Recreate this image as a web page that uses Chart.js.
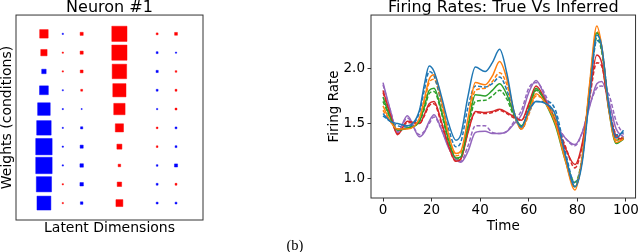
<!DOCTYPE html>
<html>
<head>
<meta charset="utf-8">
<script src="https://cdn.jsdelivr.net/npm/chart.js@4/dist/chart.umd.min.js"></script>
<style>
  html, body { margin: 0; padding: 0; background: #fff; }
  body { width: 640px; height: 252px; position: relative; overflow: hidden; }
  .panel { position: absolute; top: 0; height: 240px; }
  #left { left: 0; width: 219px; }
  #right { left: 320px; width: 320px; }
  #caption {
    position: absolute; left: 0; width: 590px; top: 238px; line-height: 14px;
    text-align: center; font-family: "Liberation Serif", serif; font-size: 14.5px; color: #000;
  }
</style>
</head>
<body>
<div class="panel" id="left"><canvas id="hintonChart"></canvas></div>
<div class="panel" id="right"><canvas id="ratesChart"></canvas></div>
<div id="caption">(b)</div>

<script>
// Hinton diagram: weight of each condition (row) on each latent dimension (column)
const conditions = [0, 1, 2, 3, 4, 5, 6, 7, 8, 9];
const dim0 = [0.27, 0.15, -0.074, -0.29, -0.59, -0.78, -1.0, -1.0, -0.86, -0.72];
const dim1 = [-0.006, 0.006, 0.006, -0.005, -0.005, -0.005, -0.006, -0.006, 0.006, 0.006];
const dim2 = [0.036, 0.036, 0.03, 0.013, -0.004, -0.018, -0.036, -0.045, -0.045, -0.024];
const dim3 = [0, 0, 0, 0, 0, 0, 0, 0, 0, 0];
const dim4 = [0.86, 0.86, 0.78, 0.65, 0.48, 0.25, 0.094, 0.024, 0.074, 0.18];
const dim5 = [0, 0, 0, 0, 0, 0, 0, 0, 0, 0];
const dim6 = [0.013, -0.013, -0.018, -0.013, -0.006, 0.01, 0.01, -0.01, -0.013, -0.013];
const dim7 = [0.03, -0.006, 0.01, 0.013, 0.013, -0.013, -0.013, -0.036, 0.013, -0.013];

// Firing rates, true (solid) and inferred (dashed)
const times = [0, 3, 6, 10, 15, 17, 19, 21, 24, 27, 30, 32, 35, 38, 42, 45, 48, 51, 54, 57, 60, 63, 67, 71, 75, 79, 82, 85, 88, 90, 93, 96, 99];
const trueBlue   = [1.59, 1.52, 1.50, 1.48, 1.62, 1.85, 2.02, 1.97, 1.75, 1.50, 1.35, 1.40, 1.75, 2.01, 1.97, 2.05, 2.17, 1.95, 1.60, 1.47, 1.62, 1.70, 1.68, 1.58, 1.22, 0.93, 1.15, 1.75, 2.30, 2.20, 1.65, 1.37, 1.44];
const trueOrange = [1.66, 1.52, 1.45, 1.45, 1.55, 1.72, 1.90, 1.94, 1.72, 1.40, 1.23, 1.25, 1.55, 1.87, 1.85, 1.93, 2.06, 1.90, 1.60, 1.45, 1.60, 1.77, 1.68, 1.50, 1.17, 0.90, 1.20, 1.85, 2.38, 2.20, 1.62, 1.33, 1.36];
const trueGreen  = [1.74, 1.55, 1.44, 1.46, 1.52, 1.65, 1.80, 1.82, 1.62, 1.35, 1.19, 1.20, 1.48, 1.76, 1.75, 1.80, 1.86, 1.76, 1.58, 1.48, 1.63, 1.82, 1.68, 1.48, 1.17, 0.93, 1.18, 1.82, 2.32, 2.18, 1.62, 1.32, 1.36];
const trueRed    = [1.80, 1.58, 1.40, 1.52, 1.50, 1.58, 1.68, 1.70, 1.52, 1.30, 1.16, 1.18, 1.42, 1.61, 1.60, 1.61, 1.63, 1.60, 1.56, 1.53, 1.68, 1.84, 1.70, 1.50, 1.28, 1.13, 1.32, 1.75, 2.12, 2.05, 1.62, 1.38, 1.36];
const trueViolet = [1.87, 1.62, 1.42, 1.57, 1.38, 1.42, 1.52, 1.58, 1.45, 1.28, 1.18, 1.15, 1.25, 1.42, 1.43, 1.41, 1.41, 1.43, 1.50, 1.58, 1.78, 1.89, 1.72, 1.50, 1.37, 1.31, 1.42, 1.65, 1.86, 1.88, 1.70, 1.45, 1.38];
const infBlue    = [1.57, 1.52, 1.48, 1.47, 1.60, 1.80, 1.97, 1.93, 1.70, 1.45, 1.29, 1.33, 1.65, 1.84, 1.83, 1.86, 1.92, 1.80, 1.58, 1.45, 1.60, 1.70, 1.70, 1.62, 1.25, 0.96, 1.18, 1.75, 2.25, 2.18, 1.66, 1.40, 1.42];
const infOrange  = [1.62, 1.52, 1.45, 1.46, 1.53, 1.68, 1.87, 1.90, 1.68, 1.38, 1.21, 1.23, 1.50, 1.80, 1.82, 1.88, 1.96, 1.85, 1.60, 1.45, 1.58, 1.75, 1.70, 1.55, 1.20, 0.93, 1.20, 1.82, 2.33, 2.20, 1.64, 1.35, 1.37];
const infGreen   = [1.70, 1.55, 1.45, 1.46, 1.52, 1.63, 1.77, 1.79, 1.60, 1.33, 1.18, 1.19, 1.45, 1.70, 1.71, 1.75, 1.80, 1.72, 1.56, 1.47, 1.62, 1.80, 1.70, 1.52, 1.20, 0.97, 1.20, 1.80, 2.27, 2.15, 1.64, 1.35, 1.37];
const infRed     = [1.78, 1.58, 1.41, 1.51, 1.50, 1.57, 1.66, 1.68, 1.50, 1.29, 1.16, 1.18, 1.43, 1.60, 1.59, 1.60, 1.62, 1.59, 1.55, 1.53, 1.66, 1.80, 1.70, 1.53, 1.30, 1.10, 1.30, 1.72, 2.05, 2.02, 1.65, 1.40, 1.37];
const infViolet  = [1.85, 1.62, 1.43, 1.55, 1.40, 1.43, 1.50, 1.56, 1.45, 1.29, 1.18, 1.16, 1.30, 1.48, 1.48, 1.42, 1.41, 1.43, 1.52, 1.62, 1.82, 1.87, 1.75, 1.52, 1.37, 1.30, 1.42, 1.66, 1.82, 1.84, 1.76, 1.52, 1.40];

const timeTicks = [0, 20, 40, 60, 80, 100];
const rateTicks = [1.0, 1.5, 2.0];

const FONT = '"DejaVu Sans", sans-serif';
Chart.defaults.font.family = FONT;
Chart.defaults.color = '#000';

// box round the plot area, like the matplotlib spines
const frame = {
    id: 'frame',
    afterDatasetsDraw(chart) {
        const { ctx, chartArea: a } = chart;
        ctx.save();
        ctx.strokeStyle = '#333';
        ctx.lineWidth = 1;
        ctx.strokeRect(a.left, a.top, a.right - a.left, a.bottom - a.top);
        ctx.restore();
    }
};

function createHintonChart() {
    const ctx = document.getElementById('hintonChart');
    const dims = [dim0, dim1, dim2, dim3, dim4, dim5, dim6, dim7];
    const cells = [];
    dims.forEach((col, d) => col.forEach((w, i) => cells.push({ x: d, y: conditions[i], w: w })));

    // square side grows with sqrt(|w|), measured in scale cells
    const radius = c => {
        const xs = c.chart.scales.x;
        const cell = xs.getPixelForValue(1) - xs.getPixelForValue(0);
        return Math.sqrt(Math.abs(c.raw.w)) * cell * 0.87 / Math.SQRT2;
    };

    new Chart(ctx, {
        type: 'scatter',
        data: {
            datasets: [{
                data: cells.filter(c => c.w > 0),
                pointStyle: 'rect',
                pointRadius: radius,
                pointBackgroundColor: '#ff0000',
                pointBorderColor: 'rgba(255, 0, 0, 0.45)',
                pointBorderWidth: 1
            }, {
                data: cells.filter(c => c.w < 0),
                pointStyle: 'rect',
                pointRadius: radius,
                pointBackgroundColor: '#0000ff',
                pointBorderColor: 'rgba(0, 0, 255, 0.45)',
                pointBorderWidth: 1
            }]
        },
        options: {
            responsive: true,
            maintainAspectRatio: false,
            animation: false,
            events: [],
            layout: { padding: { left: 0, right: 16, top: 0, bottom: 0 } },
            plugins: {
                legend: { display: false },
                tooltip: { enabled: false },
                title: {
                    display: true,
                    text: 'Neuron #1',
                    fullSize: false,
                    font: { size: 16, weight: 'normal', lineHeight: 0.94 },
                    padding: 0
                }
            },
            scales: {
                x: {
                    type: 'linear',
                    min: -1.48,
                    max: 8.43,
                    ticks: { display: false },
                    grid: { display: false },
                    border: { display: false },
                    title: {
                        display: true,
                        text: 'Latent Dimensions',
                        font: { size: 14, lineHeight: 1 },
                        padding: { top: 0, bottom: 5 }
                    },
                    afterFit: s => { s.height = 20; }
                },
                y: {
                    type: 'linear',
                    reverse: true,
                    min: -1.0,
                    max: 9.9,
                    ticks: { display: false },
                    grid: { display: false },
                    border: { display: false },
                    title: {
                        display: true,
                        text: 'Weights (conditions)',
                        font: { size: 14, lineHeight: 1 },
                        padding: 0
                    },
                    afterFit: s => { s.width = 16; }
                }
            }
        },
        plugins: [frame]
    });
}

function createRatesChart() {
    const ctx = document.getElementById('ratesChart');
    const toPoints = arr => arr.map((v, i) => ({ x: times[i], y: v }));
    const colors = ['#1f77b4', '#ff7f0e', '#2ca02c', '#d62728', '#9467bd'];
    const solid = [trueBlue, trueOrange, trueGreen, trueRed, trueViolet];
    const dashed = [infBlue, infOrange, infGreen, infRed, infViolet];

    const datasets = [];
    solid.forEach((s, i) => datasets.push({
        data: toPoints(s),
        borderColor: colors[i],
        borderWidth: 1.5
    }));
    dashed.forEach((s, i) => datasets.push({
        data: toPoints(s),
        borderColor: colors[i],
        borderWidth: 1.5,
        borderDash: [4, 2]
    }));

    new Chart(ctx, {
        type: 'line',
        data: { datasets: datasets },
        options: {
            responsive: true,
            maintainAspectRatio: false,
            animation: false,
            events: [],
            layout: { padding: { left: 0, right: 4, top: 0, bottom: 0 } },
            elements: {
                point: { radius: 0 },
                line: { cubicInterpolationMode: 'monotone', fill: false }
            },
            plugins: {
                legend: { display: false },
                tooltip: { enabled: false },
                title: {
                    display: true,
                    text: 'Firing Rates: True Vs Inferred',
                    fullSize: false,
                    font: { size: 16, weight: 'normal', lineHeight: 0.94 },
                    padding: 0
                }
            },
            scales: {
                x: {
                    type: 'linear',
                    min: -4.95,
                    max: 103.95,
                    afterBuildTicks: s => { s.ticks = timeTicks.map(v => ({ value: v })); },
                    ticks: { font: { size: 13.5 }, padding: 1, maxRotation: 0 },
                    grid: { drawOnChartArea: false, drawTicks: true, tickLength: 3.5, tickColor: '#333' },
                    border: { display: false },
                    title: {
                        display: true,
                        text: 'Time',
                        font: { size: 13.5, lineHeight: 1 },
                        padding: { top: 0, bottom: 7 }
                    },
                    afterFit: s => { s.height = 42; }
                },
                y: {
                    type: 'linear',
                    min: 0.828,
                    max: 2.48,
                    afterBuildTicks: s => { s.ticks = rateTicks.map(v => ({ value: v })); },
                    ticks: {
                        font: { size: 13.5 },
                        padding: 2.5,
                        callback: v => v.toFixed(1)
                    },
                    grid: { drawOnChartArea: false, drawTicks: true, tickLength: 3.5, tickColor: '#333' },
                    border: { display: false },
                    title: {
                        display: true,
                        text: 'Firing Rate',
                        font: { size: 13.5, lineHeight: 1 },
                        padding: { top: 7.5, bottom: 0 }
                    },
                    afterFit: s => { s.width = 51; }
                }
            }
        },
        plugins: [frame]
    });
}

createHintonChart();
createRatesChart();
</script>
</body>
</html>
